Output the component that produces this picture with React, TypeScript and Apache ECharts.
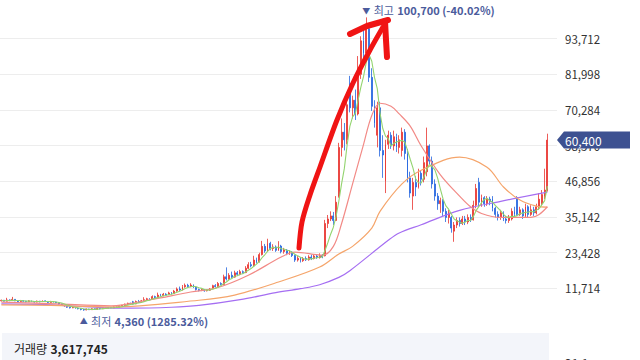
import React, { useEffect, useRef } from "react";
import * as echarts from "echarts";

// [open, close, low, high]
const candles: number[][] = [
  [7600, 7800, 7400, 8000], [7800, 7500, 7400, 7900], [7500, 7900, 7400, 8600], [7900, 7700, 7500, 8100],
  [7700, 8100, 7600, 8900], [8100, 7600, 7500, 8200], [7600, 7400, 7200, 7800], [7400, 7700, 7300, 7900],
  [7700, 7500, 7300, 7800], [7500, 7300, 7100, 7600], [7300, 7600, 7200, 7800], [7600, 7400, 7200, 7700],
  [7400, 7200, 7000, 7500], [7200, 7500, 7100, 7700], [7500, 7300, 7100, 7600], [7300, 7600, 7200, 7800],
  [7600, 7400, 7200, 7700], [7400, 7100, 6900, 7500], [7100, 7400, 7000, 7600], [7400, 7200, 7000, 7500],
  [7200, 7000, 6800, 7300], [7000, 6600, 6400, 7100], [6600, 6200, 6000, 6700], [6200, 5800, 5600, 6300],
  [5800, 5500, 5300, 5900], [5500, 5300, 5100, 5600], [5300, 5500, 5200, 5700], [5500, 5200, 5000, 5600],
  [5200, 5000, 4800, 5300], [5000, 4800, 4500, 5200], [4800, 4600, 4360, 4900], [4600, 4900, 4500, 5100],
  [4900, 4700, 4600, 5000], [4700, 5000, 4600, 5200], [5000, 4800, 4700, 5100], [4800, 5100, 4700, 5300],
  [5100, 5000, 4800, 5200], [5000, 5300, 4900, 5400], [5300, 5200, 5000, 5400], [5200, 5400, 5100, 5600],
  [5400, 5300, 5200, 5500], [5300, 5600, 5200, 5800], [5600, 5500, 5300, 5800], [5500, 5900, 5400, 6100],
  [5900, 6100, 5800, 6300], [6100, 6500, 6000, 6700], [6500, 6800, 6300, 7000], [6800, 6600, 6400, 7000],
  [7300, 6600, 6400, 7600], [6600, 7400, 6500, 7700], [7400, 7100, 6900, 7900], [7100, 7600, 7000, 7900],
  [7600, 8000, 7400, 8800], [8000, 8300, 7700, 8600], [8300, 8100, 7900, 8500], [8100, 9000, 8000, 9400],
  [9000, 8700, 8400, 9300], [8700, 9500, 8600, 10300], [9500, 9300, 9000, 9900], [9300, 9800, 9100, 10200],
  [9800, 9600, 9300, 10100], [9600, 10200, 9500, 10600], [10200, 10000, 9700, 10500], [10000, 10800, 9900, 11200],
  [10800, 11500, 10600, 12000], [11500, 11200, 10900, 12300], [11200, 12200, 11000, 12800], [12200, 12700, 11900, 13300],
  [12700, 12300, 12000, 13200], [12300, 12800, 12100, 13400], [12800, 12100, 11800, 13000], [12100, 11300, 11000, 12300],
  [11300, 11000, 10700, 11600], [11000, 11300, 10800, 11600], [11300, 10900, 10600, 11500], [10900, 11100, 10700, 11400],
  [11100, 11500, 10900, 11800], [11500, 12600, 11400, 12900], [12600, 12300, 12000, 13100], [12300, 13300, 12200, 13800],
  [13300, 13000, 12700, 13700], [13000, 15500, 12900, 16200], [15500, 14800, 14300, 18600], [14800, 16000, 14500, 16700],
  [16000, 15400, 15000, 17200], [15400, 16800, 15200, 17500], [16800, 16300, 15900, 17400], [16300, 17200, 16000, 17800],
  [17200, 16900, 16500, 17600], [16900, 18300, 16700, 19000], [18300, 19500, 18000, 20300], [19500, 19100, 18600, 20400],
  [19100, 21000, 18900, 22400], [21000, 20400, 19900, 21800], [20400, 22800, 20200, 23400], [22800, 25500, 22500, 27300],
  [25500, 24000, 23400, 26300], [24000, 26500, 23800, 28000], [26500, 24800, 24200, 27000], [24800, 25300, 24000, 26200],
  [25300, 24200, 23700, 25800], [24200, 25600, 24000, 27200], [25600, 23800, 23200, 26000], [23800, 24300, 23100, 25000],
  [24300, 23200, 22600, 24600], [23200, 23600, 22700, 24200], [23600, 22500, 22000, 23900], [22500, 21000, 20400, 22800],
  [21000, 21600, 20500, 22300], [21600, 20800, 20200, 22000], [20800, 21500, 20400, 22000], [21500, 21100, 20700, 22200],
  [21100, 22000, 20800, 22600], [22000, 21500, 21000, 22800], [21500, 22300, 21200, 23000], [22300, 21800, 21400, 22900],
  [21800, 22500, 21500, 23200], [22500, 22000, 21600, 23000], [22400, 33000, 22200, 34200], [33000, 34500, 31500, 35800],
  [34500, 35500, 33800, 37000], [35500, 34000, 32500, 36800], [34000, 40000, 33800, 42000], [42000, 58000, 41500, 59500],
  [58000, 63000, 55000, 67500], [63000, 60500, 57000, 66000], [60500, 72000, 59000, 76000], [79000, 71000, 69500, 81500],
  [71000, 73500, 67500, 75000], [73500, 69000, 67000, 77000], [69000, 82000, 68500, 88000], [82000, 93000, 80500, 94500],
  [93000, 89000, 86500, 97500], [89000, 97000, 87000, 100700], [97000, 81000, 79500, 98500], [81000, 71500, 70000, 84000],
  [71500, 66000, 64500, 73500], [62000, 71000, 58000, 73000], [71000, 57000, 55000, 73000], [57000, 55500, 48000, 62000],
  [47000, 59000, 43000, 60500], [59000, 62000, 57500, 63500], [62000, 58500, 57500, 63000], [58500, 61500, 57000, 63500],
  [61500, 58000, 56500, 62500], [58000, 60500, 56000, 62000], [57000, 63000, 55000, 64500], [63000, 56000, 54000, 64000],
  [56000, 48000, 46500, 57500], [48000, 43000, 41500, 50000], [42000, 46500, 37500, 48000], [46500, 45000, 42000, 48500],
  [45000, 49500, 44500, 51000], [49500, 47500, 45500, 50500], [47500, 53000, 46500, 55000], [50000, 58500, 48500, 64500],
  [58500, 53500, 52500, 59000], [53500, 46000, 44500, 55000], [46000, 42000, 40500, 47500], [42000, 39500, 37500, 43000],
  [39500, 40500, 36500, 41500], [40500, 37000, 35500, 41000], [37000, 35000, 33500, 38000], [35000, 36500, 33000, 37500],
  [35000, 31500, 30000, 35500], [30500, 32500, 27000, 33500], [32500, 34000, 31500, 35000], [34000, 33000, 32000, 35000],
  [33000, 34500, 32500, 35500], [34500, 33500, 32500, 35500], [33500, 35000, 32800, 36000], [35000, 34200, 33500, 36000],
  [34200, 39000, 34000, 40500], [39000, 44500, 38000, 46000], [46500, 40000, 38500, 48000], [40000, 41500, 38500, 42500],
  [41500, 39500, 38500, 42000], [39500, 41000, 38800, 42000], [41000, 40200, 39000, 41800], [41000, 38000, 37000, 42000],
  [38000, 36000, 35000, 38500], [36000, 35000, 34000, 37000], [35000, 36500, 34200, 37500], [36500, 34500, 33800, 37000],
  [34500, 34000, 33000, 35500], [34000, 35000, 33200, 35800], [34500, 37000, 34000, 38000], [37000, 36000, 35000, 38500],
  [41500, 36000, 35500, 42000], [36000, 37500, 35500, 38500], [37500, 35500, 34500, 38000], [35500, 38500, 35000, 39500],
  [38500, 36000, 35000, 39000], [36000, 37500, 35500, 39000], [37500, 36500, 35500, 38500], [36500, 38500, 36000, 39500],
  [38500, 41000, 37500, 43000], [39500, 42500, 39000, 44000], [42000, 44000, 41000, 51000], [44000, 60400, 43500, 62500],
];

// moving-average lines: [candle index, value]
const ma20Points: number[][] = [
  [0, 7200], [20, 6600], [40, 6000], [54, 7900], [69, 10500], [79, 12000], [90, 16000], [102, 22000],
  [107, 23600], [117, 22600], [121, 25500], [124, 33000], [128, 46000], [132, 59000], [135, 68500],
  [138, 72500], [142, 71500], [145, 69000], [149, 65000], [153, 58500], [160, 49000], [167, 42000],
  [171, 38500], [175, 36300], [182, 35000], [193, 35000], [196, 36000], [199, 38500],
];
const ma60Points: number[][] = [
  [0, 6300], [18, 6100], [40, 5600], [72, 7800], [85, 9500], [101, 13800], [116, 18700], [123, 23000],
  [128, 25500], [135, 31500], [138, 37000], [146, 46000], [153, 50500], [167, 54800], [177, 51500],
  [183, 45000], [189, 40700], [195, 38700], [199, 38400],
];
const ma120Points: number[][] = [
  [0, 6600], [18, 6300], [36, 5400], [47, 5200], [62, 5500], [72, 6100], [87, 8000], [100, 10300],
  [109, 11600], [116, 12900], [123, 15300], [127, 17500], [141, 27500], [145, 29900], [153, 32600],
  [167, 37300], [182, 40300], [199, 43300],
];

const slotCount = 203;
const maShortPeriod = 5;
const yInterval = 11714;
const yMax = 105426;

const highIndex = 133;
const highValue = 100700;
const highTitle = "최고";
const highDetail = "100,700 (-40.02%)";
const lowIndex = 30;
const lowValue = 4360;
const lowTitle = "최저";
const lowDetail = "4,360 (1285.32%)";
const lastPrice = 60400;
const lastPriceText = "60,400";
const volumeTitle = "거래량";
const volumeValue = "3,617,745";
const volumeAxisText = "21.1m";

const FONT = '"Noto Sans CJK KR", "Noto Sans", sans-serif';

export default function App() {
  const ref = useRef<HTMLDivElement>(null);
  useEffect(() => {
    document.body.style.margin = "0";
    const chart = echarts.init(ref.current!, null, { renderer: "svg" });
    const closes = candles.map((c) => c[1]);
    const ma5 = closes.map((_, i) => {
      const s = Math.max(0, i - (maShortPeriod - 1));
      let sum = 0;
      for (let k = s; k <= i; k++) sum += closes[k];
      return Math.round(sum / (i - s + 1));
    });
    const cats = Array.from({ length: slotCount }, (_, i) => String(i));
    const maLine = (data: number[][], color: string) => ({
      type: "line",
      xAxisIndex: 1,
      yAxisIndex: 0,
      data,
      smooth: 0.35,
      showSymbol: false,
      silent: true,
      lineStyle: { color, width: 1.2 },
      z: 3,
    });
    chart.setOption({
      animation: false,
      backgroundColor: "#ffffff",
      textStyle: { fontFamily: FONT },
      grid: { left: 0, right: 83, top: 3, bottom: 36 },
      xAxis: [
        { type: "category", data: cats, show: false, boundaryGap: true },
        { type: "value", min: -0.5, max: slotCount - 0.5, show: false },
      ],
      yAxis: {
        type: "value",
        position: "right",
        min: 0,
        max: yMax,
        interval: yInterval,
        axisLine: { show: false },
        axisTick: { show: false },
        axisLabel: {
          color: "#333",
          fontSize: 11.5,
          margin: 8,
          fontFamily: FONT,
          showMinLabel: false,
          showMaxLabel: false,
          formatter: (v: number) => v.toLocaleString("en-US"),
        },
        splitLine: { lineStyle: { color: "#ededed", width: 1 }, showMinLine: false, showMaxLine: false },
      },
      series: [
        {
          type: "candlestick",
          data: candles,
          barMaxWidth: 2,
          itemStyle: {
            color: "#e8342f",
            color0: "#2466e0",
            borderColor: "#e8342f",
            borderColor0: "#2466e0",
            borderWidth: 0.8,
          },
          z: 2,
        },
        maLine(ma120Points, "#a56ef2"),
        maLine(ma60Points, "#f5a56b"),
        maLine(ma20Points, "#f28a86"),
        {
          type: "line",
          data: ma5,
          showSymbol: false,
          silent: true,
          lineStyle: { color: "#93d46f", width: 1.1 },
          z: 4,
        },
      ],
    });

    const px = (i: number) => chart.convertToPixel({ xAxisIndex: 1 }, i) as number;
    const py = (v: number) => chart.convertToPixel({ yAxisIndex: 0 }, v) as number;
    const hx = px(highIndex);
    const hy = py(highValue);
    const lx = px(lowIndex);
    const ly = py(lowValue);
    const ty = py(lastPrice);
    const labelColor = "#4b5b9c";
    const richLabel = {
      t: { fontSize: 8, fill: labelColor, fontFamily: FONT },
      k: { fontSize: 11, fill: labelColor, fontFamily: FONT },
      v: { fontSize: 11, fill: labelColor, fontWeight: 600, fontFamily: FONT },
    };

    chart.setOption({
      graphic: [
        {
          type: "rect",
          z: 0,
          shape: { x: 2, y: 333, width: 547, height: 27 },
          style: { fill: "#f3f5fa" },
        },
        {
          type: "text",
          z: 50,
          style: {
            x: 14,
            y: 348,
            text: `{a|${volumeTitle}} {b|${volumeValue}}`,
            verticalAlign: "middle",
            rich: {
              a: { fontSize: 12, fill: "#222", fontFamily: FONT },
              b: { fontSize: 12, fill: "#222", fontWeight: "bold", fontFamily: FONT },
            },
          },
        },
        {
          type: "text",
          z: 50,
          style: { x: 565, y: 362, text: volumeAxisText, fontSize: 12, fill: "#333", verticalAlign: "middle", fontFamily: FONT },
        },
        {
          type: "text",
          z: 50,
          style: {
            x: hx - 4,
            y: hy - 7,
            text: `{t|▼} {k|${highTitle}} {v|${highDetail}}`,
            verticalAlign: "middle",
            rich: richLabel,
          },
        },
        {
          type: "text",
          z: 50,
          style: {
            x: lx - 4,
            y: ly + 10,
            text: `{t|▲} {k|${lowTitle}} {v|${lowDetail}}`,
            verticalAlign: "middle",
            rich: richLabel,
          },
        },
        {
          type: "polygon",
          z: 60,
          shape: {
            points: [
              [557, ty],
              [564, ty - 8.5],
              [630, ty - 8.5],
              [630, ty + 8.5],
              [564, ty + 8.5],
            ],
          },
          style: { fill: "#3d5191" },
        },
        {
          type: "text",
          z: 61,
          style: { x: 565, y: ty, text: lastPriceText, fontSize: 12, fill: "#ffffff", verticalAlign: "middle", fontFamily: FONT },
        },
        {
          type: "polyline",
          z: 80,
          shape: {
            points: [
              [299, 248], [302, 222], [310, 195], [320, 167], [337, 120], [353, 83], [370, 50], [383, 27],
            ],
            smooth: 0.3,
          },
          style: { stroke: "#f01414", lineWidth: 5, lineCap: "round", lineJoin: "round", fill: null },
        },
        {
          type: "polyline",
          z: 80,
          shape: { points: [[350, 34], [367, 26], [388, 20]] },
          style: { stroke: "#f01414", lineWidth: 6, lineCap: "round", lineJoin: "round", fill: null },
        },
        {
          type: "polyline",
          z: 80,
          shape: { points: [[385, 21], [386, 40], [387, 57]] },
          style: { stroke: "#f01414", lineWidth: 6, lineCap: "round", lineJoin: "round", fill: null },
        },
      ],
    });
    return () => chart.dispose();
  }, []);
  return <div ref={ref} style={{ position: "fixed", left: 0, top: 0, width: 640, height: 360 }} />;
}
